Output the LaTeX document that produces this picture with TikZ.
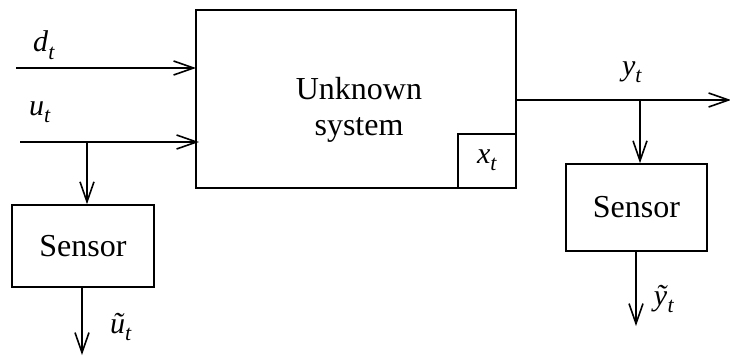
\documentclass[tikz,border=0pt]{standalone}
\usepackage{fontspec}
\setmainfont{Liberation Serif}
\usetikzlibrary{arrows.meta}
\newcommand\lbl[2]{\textit{#1}\raisebox{-0.25em}{\fontsize{22}{22}\selectfont\textit{#2}}}
\begin{document}
\begin{tikzpicture}[x=1pt,y=-1pt,
  line width=1.6pt,
  arr/.style={-{Straight Barb[length=20pt,width=14pt,line width=1.6pt]}},
  blk/.style={draw,line width=1.6pt,inner sep=0pt},
  big/.style={font=\fontsize{32}{36}\selectfont,align=center},
  lab/.style={font=\fontsize{30}{32}\selectfont,inner sep=0pt}]
\useasboundingbox (0,0) rectangle (730,356);
% main box
\node[blk,minimum width=320pt,minimum height=178pt] (sys) at (356,99) {};
\node[big] (txt) at (359,110) {Unknown\\system};
\coordinate (xtl) at (458,134);
\coordinate (xtr) at (516,134);
\coordinate (xtb) at (458,188);
\draw (xtb) -- (xtl) -- (xtr);
\node[lab] (xt) at (487,160) {\lbl{x}{t}};
% inputs
\coordinate (ds) at (16,68);
\coordinate (de) at (196,68);
\draw[arr] (ds) -- (de);
\node[lab] (dl) at (44,45) {\lbl{d}{t}};
\coordinate (us) at (20,142);
\coordinate (ue) at (199,142);
\draw[arr] (us) -- (ue);
\node[lab] (ul) at (40,112) {\lbl{u}{t}};
\coordinate (ub) at (87,142);
% left sensor
\node[blk,minimum width=142pt,minimum height=82pt,font=\fontsize{32}{36}\selectfont] (s1) at (83,246) {Sensor};
\draw[arr] (ub) -- (ub |- s1.north);
\coordinate (s1o) at (82,355);
\draw[arr] (s1o |- s1.south) -- (s1o);
\node[lab] (ut) at (121,327) {\lbl{ũ}{t}};
% output
\coordinate (ys) at (516,100);
\coordinate (ye) at (731,100);
\draw[arr] (ys) -- (ye);
\node[lab] (yl) at (632,72) {\lbl{y}{t}};
\coordinate (yb) at (640,100);
\node[blk,minimum width=141pt,minimum height=87pt,font=\fontsize{32}{36}\selectfont] (s2) at (636.5,207.5) {Sensor};
\draw[arr] (yb) -- (yb |- s2.north);
\coordinate (s2o) at (636,326);
\draw[arr] (s2o |- s2.south) -- (s2o);
\node[lab] (yt) at (664,299) {\lbl{ỹ}{t}};
\end{tikzpicture}
\end{document}
